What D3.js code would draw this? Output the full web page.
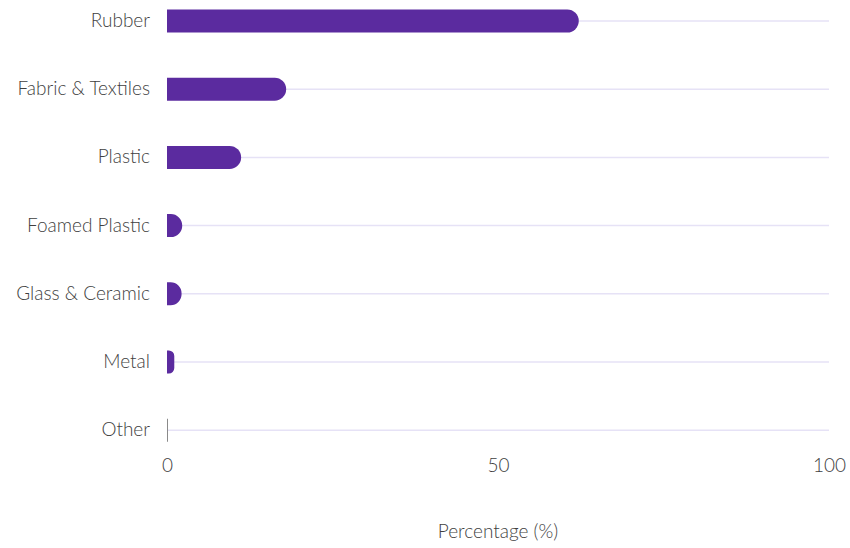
<!DOCTYPE html>
<html>
<head>
<meta charset="utf-8">
<script src="https://cdn.jsdelivr.net/npm/d3@7"></script>
<style>
  html, body { margin: 0; padding: 0; background: #ffffff; }
  svg { display: block; }
  text { font-family: Lato, "Open Sans", sans-serif; font-weight: 300; }
</style>
</head>
<body>
<svg id="chart" width="850" height="548"></svg>
<script>
// Share of litter by material type
const categories = ["Rubber", "Fabric & Textiles", "Plastic", "Foamed Plastic", "Glass & Ceramic", "Metal", "Other"];
const percentages = [62.2, 18.0, 11.2, 2.3, 2.2, 1.1, 0.15];
const xTicks = [0, 50, 100];
const xTitle = "Percentage (%)";

const svg = d3.select("#chart");
const left = 167, right = 829;

const x = d3.scaleLinear().domain([0, 100]).range([left, right]);
const inner = 0.663;
const y = d3.scaleBand().domain(categories).range([-13.1, 464.3])
  .paddingInner(inner).paddingOuter(inner / 2);

const barColor = "#5b2b9f";
const gridColor = "#e6e2f6";
const textColor = "#3f3f3f";

// horizontal guide line for each row
svg.append("g")
  .selectAll("line")
  .data(categories)
  .join("line")
  .attr("x1", x(0))
  .attr("x2", x(100))
  .attr("y1", d => y(d) + y.bandwidth() / 2)
  .attr("y2", d => y(d) + y.bandwidth() / 2)
  .attr("stroke", gridColor)
  .attr("stroke-width", 1.5);

// bars: square start, rounded end
function barPath(v, cat) {
  const x0 = x(0), x1 = x(v);
  const w = Math.max(x1 - x0, 0);
  const h = y.bandwidth();
  const y0 = y(cat);
  if (w < 1.5) {
    return `M${x0},${y0}H${x0 + Math.max(w, 1)}V${y0 + h}H${x0}Z`;
  }
  const r = Math.min(h / 2, w * 0.75);
  return `M${x0},${y0}` +
         `H${x1 - r}` +
         `A${r},${r} 0 0 1 ${x1},${y0 + r}` +
         `V${y0 + h - r}` +
         `A${r},${r} 0 0 1 ${x1 - r},${y0 + h}` +
         `H${x0}Z`;
}

svg.append("g")
  .selectAll("path")
  .data(categories.map((c, i) => ({ c, v: percentages[i] })))
  .join("path")
  .attr("d", d => barPath(d.v, d.c))
  .attr("fill", d => d.v < 0.5 ? "#8a8a8a" : barColor);

// category labels
const yAxis = d3.axisLeft(y).tickSize(0).tickPadding(17);
const gy = svg.append("g").attr("transform", `translate(${left},0)`).call(yAxis);
gy.select(".domain").remove();
gy.selectAll("text")
  .attr("font-size", 19)
  .attr("fill", textColor)
  .style("font-family", "Lato, 'Open Sans', sans-serif")
  .style("font-weight", 300);

// value axis
const xAxis = d3.axisBottom(x).tickValues(xTicks).tickSize(0).tickPadding(0);
const gx = svg.append("g").attr("transform", `translate(0,465)`).call(xAxis);
gx.select(".domain").remove();
gx.selectAll("text")
  .attr("dy", "0.35em")
  .attr("font-size", 19)
  .attr("fill", textColor)
  .style("font-family", "Lato, 'Open Sans', sans-serif")
  .style("font-weight", 300);

svg.append("text")
  .attr("x", x(50))
  .attr("y", 533)
  .attr("text-anchor", "middle")
  .attr("dominant-baseline", "middle")
  .attr("font-size", 19)
  .attr("fill", textColor)
  .text(xTitle);
</script>
</body>
</html>
